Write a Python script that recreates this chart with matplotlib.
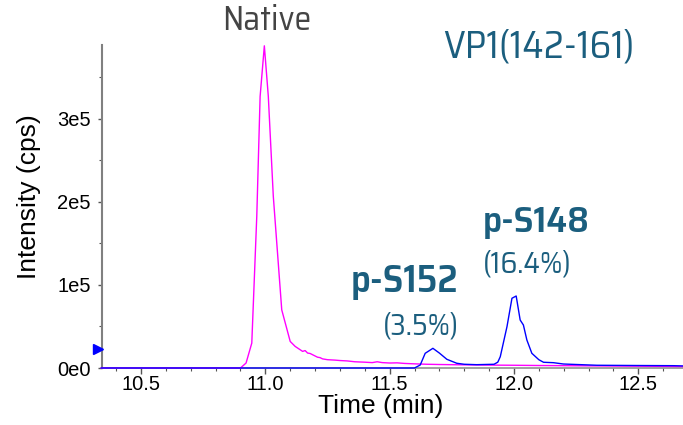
import matplotlib
matplotlib.use('Agg')
import matplotlib.pyplot as plt
from matplotlib import font_manager as fm
from matplotlib.ticker import MultipleLocator, FuncFormatter
from matplotlib.transforms import blended_transform_factory

_installed = {f.name for f in fm.fontManager.ttflist}
AXFONT = 'Liberation Sans'
ANFONT = next((n for n in ['Saira SemiCondensed', 'Saira Semi Condensed', 'Barlow'] if n in _installed),
              'DejaVu Sans')
plt.rcParams['font.family'] = [AXFONT, 'DejaVu Sans']

# ---- data (intensity in units of 1e5 cps) ----
native_time = [10.34, 10.90, 10.9225, 10.9455, 10.9656, 10.979, 10.996, 11.012, 11.032,
               11.066, 11.100, 11.12, 11.14, 11.15, 11.16, 11.17, 11.18, 11.19, 11.20,
               11.21, 11.22, 11.23, 11.25, 11.28, 11.30, 11.33, 11.36, 11.40, 11.43,
               11.45, 11.47, 11.50, 11.53, 11.56, 11.60, 11.65, 11.70, 11.80, 11.90,
               12.00, 12.10, 12.20, 12.30, 12.40, 12.50, 12.60, 12.68]
native_int = [0.0, 0.0, 0.06, 0.30, 1.83, 3.27, 3.88, 3.27, 2.07,
              0.70, 0.32, 0.26, 0.22, 0.20, 0.21, 0.18, 0.175, 0.16, 0.145,
              0.13, 0.125, 0.11, 0.10, 0.095, 0.09, 0.085, 0.075, 0.07, 0.065,
              0.075, 0.065, 0.06, 0.062, 0.055, 0.05, 0.045, 0.042, 0.038, 0.035,
              0.033, 0.03, 0.028, 0.026, 0.024, 0.022, 0.02, 0.018]

phospho_time = [10.34, 11.60, 11.623, 11.643, 11.674, 11.70, 11.730, 11.770, 11.80,
                11.85, 11.92, 11.935, 11.945, 11.972, 11.992, 12.009, 12.025, 12.038,
                12.052, 12.072, 12.10, 12.119, 12.159, 12.199, 12.334, 12.50, 12.641, 12.68]
phospho_int = [0.0, 0.0, 0.036, 0.177, 0.237, 0.18, 0.105, 0.057, 0.045,
               0.04, 0.045, 0.07, 0.136, 0.498, 0.840, 0.867, 0.578, 0.518,
               0.337, 0.177, 0.10, 0.069, 0.064, 0.048, 0.033, 0.03, 0.028, 0.025]

marker_level = 0.23  # blue arrow on y-axis

x_ticks = [10.5, 11.0, 11.5, 12.0, 12.5]
y_ticks = [0, 1, 2, 3]

title_native = 'Native'
title_peptide = 'VP1(142-161)'
peak_names = ['p-S152', 'p-S148']
peak_pcts = ['(3.5%)', '(16.4%)']
x_label = 'Time (min)'
y_label = 'Intensity (cps)'

SCALE = 1e5
TEXT_COLOR = '#1b5e7e'
W, H = 683, 425

fig = plt.figure(figsize=(W / 100, H / 100), dpi=100)
ax = fig.add_axes([102 / W, 1 - 368 / H, 1 - 102 / W, (368 - 45) / H])

ax.plot(native_time, [v * SCALE for v in native_int], color='#ff00ff', lw=1.0, clip_on=False, zorder=3)
ax.plot(phospho_time, [v * SCALE for v in phospho_int], color='#0000ff', lw=1.0, clip_on=False, zorder=4)

ax.set_xlim(10.343, 12.68)
ax.set_ylim(0, 3.89e5)

for s in ['top', 'right']:
    ax.spines[s].set_visible(False)
ax.spines['left'].set_color('#808080')
ax.spines['left'].set_linewidth(1.5)
ax.spines['bottom'].set_color('#909090')
ax.spines['bottom'].set_linewidth(1.2)

ax.set_xticks(x_ticks)
ax.xaxis.set_minor_locator(MultipleLocator(0.1))
ax.xaxis.set_major_formatter(FuncFormatter(lambda v, p: f'{v:.1f}'))
ax.set_yticks([v * SCALE for v in y_ticks])
ax.yaxis.set_minor_locator(MultipleLocator(0.5 * SCALE))
ax.yaxis.set_major_formatter(
    FuncFormatter(lambda v, p: f'{int(round(v / SCALE))}e{5 if round(v / SCALE) else 0}'))

ax.tick_params(axis='both', which='major', labelsize=14.5, colors='#555555', labelcolor='black')
ax.tick_params(axis='x', which='major', length=4, width=1, pad=1)
ax.tick_params(axis='x', which='minor', length=2.5, width=0.8, colors='#555555')
ax.tick_params(axis='y', which='major', length=3, width=1, pad=5)
ax.tick_params(axis='y', which='minor', length=2, width=0.8, colors='#555555')

fig.text(381 / W, 1 - 406 / H, x_label, ha='center', va='center', fontsize=19)
fig.text(29 / W, 1 - 197 / H, y_label, ha='center', va='center', rotation=90, fontsize=19)

# blue arrow marker on the y axis
trans = blended_transform_factory(ax.transAxes, ax.transData)
ax.plot([-0.007], [marker_level * SCALE], marker='>', color='#0000ff', markersize=6.5,
        transform=trans, clip_on=False, zorder=5)

# annotations, sized to fit measured extents
renderer = fig.canvas.get_renderer()


def fit_text(s, left, right, ycen, color, weight='normal'):
    t = fig.text(left / W, 1 - ycen / H, s, ha='left', va='center', fontsize=20,
                 color=color, fontweight=weight, family=[ANFONT, 'DejaVu Sans'])
    w = t.get_window_extent(renderer).width
    t.set_fontsize(20 * (right - left) / w)
    return t


fit_text(title_native, 222, 311, 21, '#444444')
fit_text(title_peptide, 443, 635, 47, TEXT_COLOR)
fit_text(peak_names[0], 351, 459, 281, TEXT_COLOR, weight=600)
fit_text(peak_pcts[0], 383, 459, 326, TEXT_COLOR)
fit_text(peak_names[1], 483, 590, 222, TEXT_COLOR, weight=600)
fit_text(peak_pcts[1], 483, 572, 264, TEXT_COLOR)

fig.savefig('out.png', dpi=100)
